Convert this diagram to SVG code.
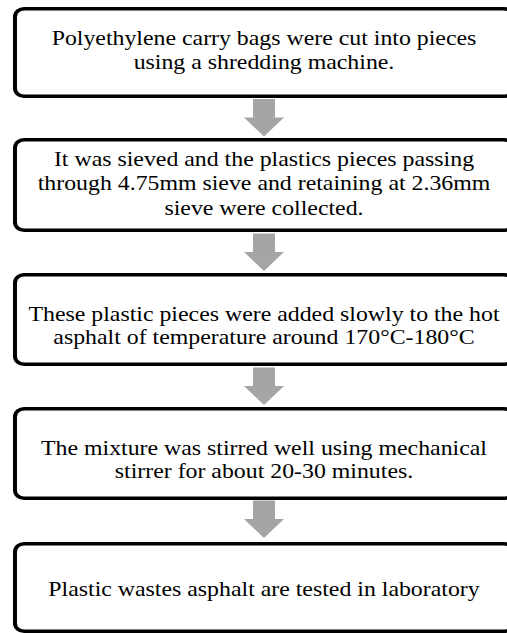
<svg xmlns="http://www.w3.org/2000/svg" width="507" height="633" viewBox="0 0 507 633">
<style>
.box{fill:#ffffff;stroke:#000000;stroke-width:3.5}
.lbl{font-family:'Liberation Serif','Times New Roman',Times,'DejaVu Serif',serif;font-size:21px;fill:#000000;text-anchor:middle}
.arr{fill:#a5a5a5;stroke:none}
</style>
<defs>
<path id="arrow" d="M-9.7 0 H9.7 V18.5 H17.6 L0 37.5 L-17.6 18.5 H-9.7 Z"/>
</defs>
<rect width="507" height="633" fill="#ffffff"/>
<g transform="scale(1.135 1)">
<g id="connectors">
<use href="#arrow" class="arr" transform="translate(232.6 99)"/>
<use href="#arrow" class="arr" transform="translate(232.6 233.5)"/>
<use href="#arrow" class="arr" transform="translate(232.6 367.5)"/>
<use href="#arrow" class="arr" transform="translate(232.6 500.5)"/>
</g>
<g id="step1" font-family="Liberation Serif, serif">
<rect class="box" x="13.2" y="8.75" width="438.8" height="87.5" rx="8" ry="8"/>
<text class="lbl" x="232.6" y="45">Polyethylene carry bags were cut into pieces</text>
<text class="lbl" x="232.6" y="69">using a shredding machine.</text>
</g>
<g id="step2" font-family="Liberation Serif, serif">
<rect class="box" x="13.2" y="139.75" width="438.8" height="90.5" rx="8" ry="8"/>
<text class="lbl" x="232.6" y="166">It was sieved and the plastics pieces passing</text>
<text class="lbl" x="232.6" y="190.5">through 4.75mm sieve and retaining at 2.36mm</text>
<text class="lbl" x="232.6" y="215">sieve were collected.</text>
</g>
<g id="step3" font-family="Liberation Serif, serif">
<rect class="box" x="13.2" y="274.75" width="438.8" height="89.5" rx="8" ry="8"/>
<text class="lbl" x="232.6" y="321">These plastic pieces were added slowly to the hot</text>
<text class="lbl" x="232.6" y="344.5">asphalt of temperature around 170°C-180°C</text>
</g>
<g id="step4" font-family="Liberation Serif, serif">
<rect class="box" x="13.2" y="408.75" width="438.8" height="89.5" rx="8" ry="8"/>
<text class="lbl" x="232.6" y="455">The mixture was stirred well using mechanical</text>
<text class="lbl" x="232.6" y="478.5">stirrer for about 20-30 minutes.</text>
</g>
<g id="step5" font-family="Liberation Serif, serif">
<rect class="box" x="13.2" y="543.75" width="438.8" height="87.5" rx="8" ry="8"/>
<text class="lbl" x="232.6" y="596">Plastic wastes asphalt are tested in laboratory</text>
</g>
</g>
</svg>
